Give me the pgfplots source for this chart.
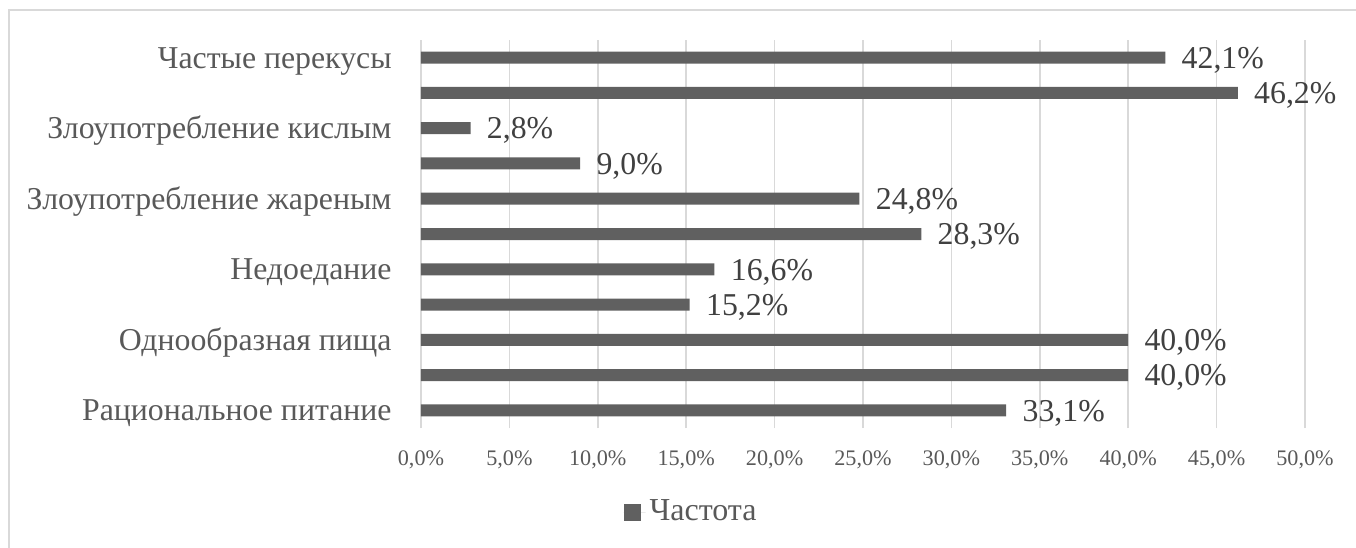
\documentclass[border=0pt]{standalone}
\usepackage{fontspec}
\setmainfont{Liberation Serif}
\usepackage{pgfplots}
\pgfplotsset{compat=1.18}
\definecolor{barc}{HTML}{606060}
\definecolor{txt}{HTML}{595959}
\definecolor{dlab}{HTML}{404040}
\definecolor{gridc}{HTML}{D9D9D9}
\begin{document}
\begin{tikzpicture}[x=1pt,y=1pt]
\useasboundingbox (0,0) rectangle (678,273.5);
\draw[gridc, line width=0.75pt] (4.5,268.5) rectangle (700,-20);
\begin{axis}[
  at={(210.5pt,59.5pt)}, anchor=south west,
  scale only axis, width=442pt, height=194pt,
  xbar, bar width=6pt,
  xmin=0, xmax=50, ymin=-0.5, ymax=10.5,
  clip=false,
  axis line style={draw=none},
  /pgf/number format/assume math mode=true,
  xtick={0,5,...,50},
  xmajorgrids, major grid style={gridc, line width=0.75pt},
  major tick length=0,
  xticklabel={\pgfmathprintnumber[fixed,fixed zerofill,precision=1,use comma]{\tick}\%},
  xticklabel style={anchor=north, inner sep=0pt, text height=7.5pt, text depth=0pt, yshift=-11pt, font=\fontsize{11.1}{13}\selectfont, text=txt},
  ytick={0,2,4,6,8,10},
  yticklabels={Рациональное питание, Однообразная пища, Недоедание, Злоупотребление жареным, Злоупотребление кислым, Частые перекусы},
  yticklabel style={anchor=east, inner sep=0pt, text height=10.5pt, text depth=0pt, xshift=-14.5pt, font=\fontsize{15.9}{19}\selectfont, text=txt},
  nodes near coords={\pgfmathprintnumber[fixed,fixed zerofill,precision=1,use comma]{\pgfplotspointmeta}\%},
  nodes near coords style={anchor=west, inner sep=0pt, xshift=8pt, text height=10.8pt, text depth=0pt, font=\fontsize{15.9}{19}\selectfont, text=dlab},
  point meta=x,
  legend style={at={(0.3066,-0.2165)}, anchor=center, draw=none, fill=none, font=\fontsize{16}{19}\selectfont, text=txt, inner sep=0pt},
  legend image code/.code={\fill[barc] (0pt,-4.25pt) rectangle (8.5pt,4.25pt); \path (0pt,0pt) -- (11pt,0pt);},
]
\addplot[fill=barc, draw=none] coordinates {
  (33.1,0) (40.0,1) (40.0,2) (15.2,3) (16.6,4) (28.3,5)
  (24.8,6) (9.0,7) (2.8,8) (46.2,9) (42.1,10)
};
\addlegendentry{Частота}
\end{axis}
\end{tikzpicture}
\end{document}
